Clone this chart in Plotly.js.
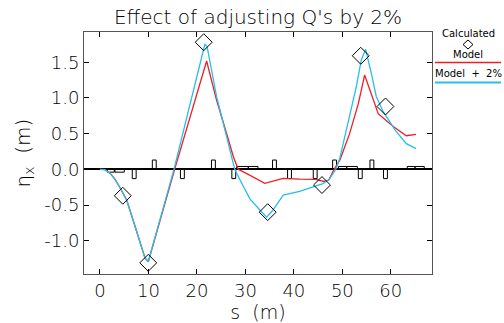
<!DOCTYPE html>
<html>
<head>
<meta charset="utf-8">
<script src="https://cdn.plot.ly/plotly-3.0.1.min.js"></script>
<style>html,body{margin:0;padding:0;background:#fff}#chart{width:504px;height:323px}</style>
</head>
<body>
<div id="chart"></div>
<script>
// Calculated dispersion (diamonds)
var calcS = [4.7, 9.95, 21.4, 34.6, 45.8, 53.8, 58.9];
var calcEta = [-0.37, -1.31, 1.78, -0.60, -0.22, 1.59, 0.88];

// Model (red)
var modelS = [0, 1, 2, 3, 4, 5, 5.5, 6.87, 8.25, 9.28, 9.96, 15.4, 22.0, 22.3, 24.05, 26.3, 27.5, 28.5, 30.2, 34.0, 37.8, 41.2, 44.5, 46.2, 47.2, 48.3, 49.5, 51.5, 53.3, 54.6, 55.7, 57.4, 60.5, 63.2, 65.2];
var modelEta = [0, -0.005, -0.05, -0.13, -0.24, -0.36, -0.43, -0.72, -1.0, -1.24, -1.294, 0, 1.517, 1.44, 0.97, 0.46, 0.18, 0, -0.056, -0.196, -0.126, -0.136, -0.14, -0.17, -0.15, 0, 0.13, 0.5, 0.92, 1.32, 1.11, 0.78, 0.60, 0.47, 0.49];

// Model + 2% (cyan)
var plusS = [0, 1, 2, 3, 4, 5, 5.5, 6.87, 8.25, 9.28, 9.96, 15.26, 21.65, 22.1, 24.05, 26.1, 27.8, 28.9, 30.9, 32.97, 34.4, 35.7, 37.8, 41.2, 44.0, 46.0, 47.3, 48.66, 49.5, 51.2, 52.9, 53.9, 54.8, 56.0, 57.0, 58.4, 60.9, 63.2, 65.2];
var plusEta = [0, -0.005, -0.05, -0.13, -0.24, -0.36, -0.43, -0.72, -1.0, -1.24, -1.294, 0, 1.755, 1.717, 1.02, 0.457, 0, -0.15, -0.41, -0.57, -0.67, -0.57, -0.36, -0.31, -0.25, -0.2, -0.14, 0, 0.16, 0.64, 1.16, 1.53, 1.68, 1.34, 1.02, 0.81, 0.55, 0.36, 0.29];

// Lattice elements: start (m), length (m), height (m, signed)
var elemStart = [1.55, 3.09, 6.66, 10.8, 16.6, 23.0, 27.2, 28.2, 30.6, 35.6, 38.7, 44.0, 48.0, 49.2, 50.9, 53.3, 55.7, 58.5, 63.4, 65.0];
var elemLen   = [1.4, 1.92, 0.8, 0.8, 0.8, 0.8, 0.8, 2.4, 2.0, 0.8, 0.8, 0.8, 0.8, 1.7, 2.2, 0.8, 0.8, 0.8, 1.6, 1.9];
var elemH     = [-0.04, -0.04, -0.13, 0.13, -0.13, 0.13, -0.13, 0.04, 0.04, 0.13, -0.13, -0.13, 0.13, 0.04, 0.04, -0.13, 0.13, -0.13, 0.04, 0.04];

var xTicks = [0, 10, 20, 30, 40, 50, 60];
var yTicks = [-1.0, -0.5, 0.0, 0.5, 1.0, 1.5];

var latX = [], latY = [];
for (var i = 0; i < elemStart.length; i++) {
  var a = elemStart[i], b = a + elemLen[i], h = elemH[i];
  latX.push(a, a, b, b, a, null);
  latY.push(0, h, h, 0, 0, null);
}

var FONT = 'DejaVu Sans, sans-serif';
var red = 'rgb(238,30,36)';
var cyan = 'rgb(38,190,238)';

var traces = [
  {x: latX, y: latY, mode: 'lines', line: {color: '#000', width: 1}, hoverinfo: 'skip', showlegend: false},
  {x: modelS, y: modelEta, mode: 'lines', line: {color: red, width: 1.3}, showlegend: false},
  {x: plusS, y: plusEta, mode: 'lines', line: {color: cyan, width: 1.3}, showlegend: false},
  {x: calcS, y: calcEta, mode: 'markers', marker: {symbol: 'diamond-open', size: 13, color: '#000', line: {color: '#000', width: 1}}, showlegend: false}
];

// legend helpers: pixel -> paper
var L = 84, T = 32, W = 348, H = 242;
function px(x) { return (x - L) / W; }
function py(y) { return (T + H - y) / H; }

var layout = {
  width: 504, height: 323,
  margin: {l: L, r: 504 - L - W, t: T, b: 323 - T - H},
  paper_bgcolor: '#fff', plot_bgcolor: '#fff',
  showlegend: false,
  title: {text: "Effect of adjusting Q's by 2%", font: {family: FONT, size: 20, color: '#000', weight: 200}, x: px(258), xanchor: 'center', y: 1 - 17/323, yanchor: 'middle', xref: 'paper'},
  xaxis: {
    range: [-3.3, 68.5], tickvals: xTicks, ticktext: xTicks.map(String),
    ticks: 'inside', ticklen: 5, tickcolor: '#000', mirror: 'ticks',
    showline: true, linecolor: '#555', linewidth: 1, showgrid: false, zeroline: false,
    tickfont: {family: FONT, size: 18, color: '#000', weight: 200},
    title: {text: 's  (m)', font: {family: FONT, size: 19, color: '#000', weight: 200}, standoff: 3}
  },
  yaxis: {
    range: [-1.466, 1.923], tickvals: yTicks, ticktext: yTicks.map(function (v) { return v.toFixed(1); }),
    ticks: 'inside', ticklen: 5, tickcolor: '#000', mirror: 'ticks',
    showline: true, linecolor: '#555', linewidth: 1, showgrid: false,
    zeroline: true, zerolinecolor: '#000', zerolinewidth: 2,
    tickfont: {family: FONT, size: 18, color: '#000', weight: 200},
    title: {text: 'η<sub>x</sub>  (m)', font: {family: FONT, size: 20, color: '#000', weight: 200}, standoff: 8}
  },
  annotations: [
    {text: 'Calculated', xref: 'paper', yref: 'paper', x: px(468), y: py(34), showarrow: false, xanchor: 'center', yanchor: 'middle', font: {family: FONT, size: 10, color: '#000'}},
    {text: 'Model', xref: 'paper', yref: 'paper', x: px(468), y: py(54), showarrow: false, xanchor: 'center', yanchor: 'middle', font: {family: FONT, size: 10, color: '#000'}},
    {text: 'Model  +  2%', xref: 'paper', yref: 'paper', x: px(468), y: py(73), showarrow: false, xanchor: 'center', yanchor: 'middle', font: {family: FONT, size: 10, color: '#000'}}
  ],
  shapes: [
    {type: 'path', xref: 'paper', yref: 'paper', path: 'M' + px(468) + ',' + py(40) + ' L' + px(473) + ',' + py(44.5) + ' L' + px(468) + ',' + py(49) + ' L' + px(463) + ',' + py(44.5) + ' Z', line: {color: '#000', width: 1}},
    {type: 'line', xref: 'paper', yref: 'paper', x0: px(435), x1: px(501), y0: py(62.5), y1: py(62.5), line: {color: red, width: 1.5}},
    {type: 'line', xref: 'paper', yref: 'paper', x0: px(435), x1: px(501), y0: py(82.5), y1: py(82.5), line: {color: cyan, width: 2}}
  ]
};

Plotly.newPlot('chart', traces, layout, {displayModeBar: false, staticPlot: true});
</script>
</body>
</html>
